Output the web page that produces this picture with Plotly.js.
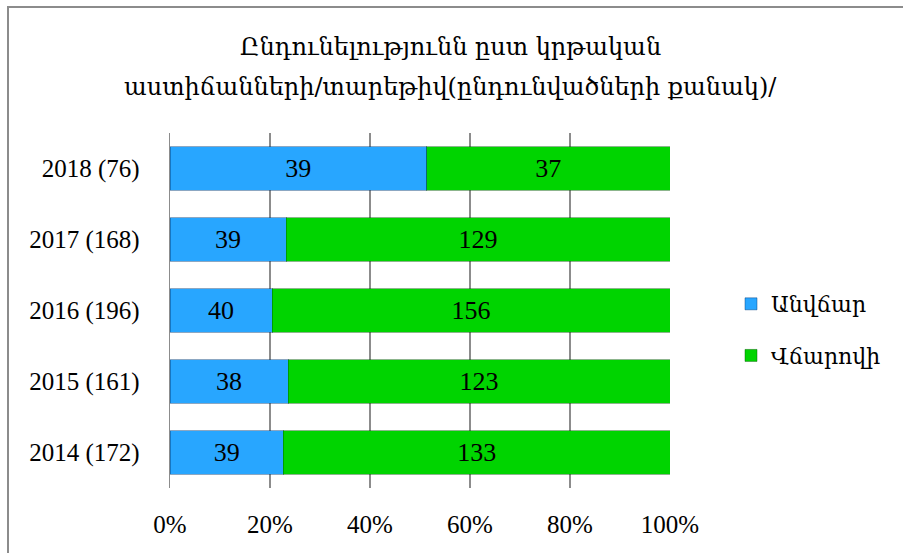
<!DOCTYPE html>
<html>
<head>
<meta charset="utf-8">
<script src="https://cdn.plot.ly/plotly-3.0.1.min.js"></script>
<style>
  html, body { margin: 0; padding: 0; background: #fff; }
  #wrap { position: relative; width: 903px; height: 553px; overflow: hidden; }
  #chart { position: absolute; left: 0; top: 0; width: 903px; height: 553px; }
  #frame { position: absolute; left: 7px; top: 6px; width: 910px; height: 560px;
           border-left: 2px solid #8c8c8c; border-top: 2px solid #8c8c8c; pointer-events: none; }
</style>
</head>
<body>
<div id="wrap"><div id="chart"></div><div id="frame"></div></div>
<script>
const categories = ['2014 (172)', '2015 (161)', '2016 (196)', '2017 (168)', '2018 (76)'];
const freeValues = [39, 38, 40, 39, 39];
const paidValues = [133, 123, 156, 129, 37];
const seriesNames = ['Անվճար', 'Վճարովի'];
const titleLines = ['Ընդունելությունն ըստ կրթական', 'աստիճանների/տարեթիվ(ընդունվածների քանակ)/'];

const serif = 'Liberation Serif, DejaVu Serif, serif';
const armFont = 'DejaVu Serif, Noto Sans, serif';

const common = {
  type: 'bar', orientation: 'h', y: categories,
  textposition: 'inside', insidetextanchor: 'middle', constraintext: 'none',
  textfont: { family: serif, size: 26, color: '#000' },
  hoverinfo: 'skip'
};

const traces = [
  Object.assign({}, common, {
    name: seriesNames[0], x: freeValues, text: freeValues.map(String),
    marker: { color: '#28a6ff', line: { color: 'rgba(0,60,120,0.45)', width: 1 } },
    legendgroup: 'a'
  }),
  Object.assign({}, common, {
    name: seriesNames[1], x: paidValues, text: paidValues.map(String),
    marker: { color: '#00d400', line: { color: 'rgba(0,90,0,0.45)', width: 1 } },
    legendgroup: 'b'
  })
];

const layout = {
  width: 903, height: 553,
  margin: { l: 170, r: 233, t: 133, b: 65, autoexpand: false },
  paper_bgcolor: '#fff', plot_bgcolor: '#fff',
  barmode: 'stack', barnorm: 'percent', bargap: 0.39,
  showlegend: true,
  legend: {
    x: 1.122, y: 0.445, xanchor: 'left', yanchor: 'middle',
    font: { family: armFont, size: 22, color: '#000' },
    traceorder: 'grouped', tracegroupgap: 20,
    itemwidth: 30, bgcolor: 'rgba(0,0,0,0)'
  },
  xaxis: {
    range: [0, 100], dtick: 20, ticksuffix: '%',
    showgrid: true, gridcolor: '#8c8c8c', gridwidth: 1.3,
    zeroline: false, showline: false, ticks: '',
    ticklabelstandoff: 19,
    tickfont: { family: serif, size: 25, color: '#000' },
    fixedrange: true
  },
  yaxis: {
    type: 'category', categoryorder: 'array', categoryarray: categories,
    showgrid: false, zeroline: false,
    showline: true, linecolor: '#8c8c8c', linewidth: 1.3,
    ticks: '', ticklabelstandoff: 24,
    tickfont: { family: serif, size: 25, color: '#000' },
    fixedrange: true
  },
  annotations: [
    { text: titleLines[0], xref: 'paper', yref: 'paper', x: 0.56, y: 1, yshift: 86,
      xanchor: 'center', yanchor: 'middle', showarrow: false,
      font: { family: armFont, size: 24, color: '#000' } },
    { text: titleLines[1], xref: 'paper', yref: 'paper', x: 0.56, y: 1, yshift: 46,
      xanchor: 'center', yanchor: 'middle', showarrow: false,
      font: { family: armFont, size: 24, color: '#000' } }
  ]
};

Plotly.newPlot('chart', traces, layout, { displayModeBar: false, staticPlot: true });
</script>
</body>
</html>
